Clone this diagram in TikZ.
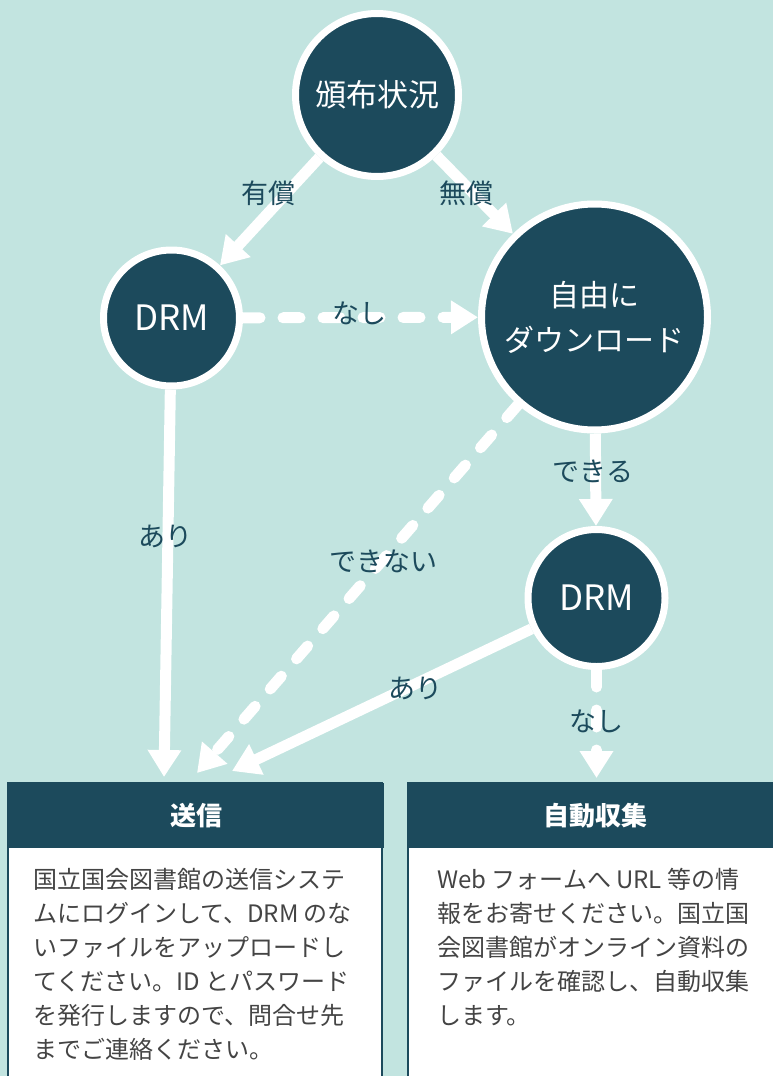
\documentclass[tikz,border=0pt]{standalone}
\usepackage{fontspec}
\setmainfont{Noto Sans CJK JP}
\usetikzlibrary{arrows.meta}
\definecolor{bg}{RGB}{194,228,224}
\definecolor{dark}{RGB}{28,74,92}
\definecolor{bodytxt}{RGB}{68,68,68}
\tikzset{
  circ/.style={circle, fill=dark, draw=white, line width=7pt, text=white, inner sep=0pt, align=center},
  arr/.style={draw=white, line width=11pt, -{Triangle[width=32pt,length=27pt]}},
  dasharr/.style={arr, line cap=round, dash pattern=on 17pt off 23pt},
  lab/.style={text=dark, font=\fontsize{27pt}{32pt}\selectfont, inner sep=0pt},
  header/.style={fill=dark, draw=dark, line width=2pt, text=white, inner sep=0pt, anchor=north west, minimum height=63pt, font=\bfseries\fontsize{26pt}{30pt}\selectfont},
  bodytext/.style={text=bodytxt, align=left, inner sep=0pt, anchor=north west, font=\fontsize{24pt}{34pt}\selectfont},
  boxframe/.style={fill=white, draw=dark, line width=2pt}
}
\begin{document}
\begin{tikzpicture}[x=1pt,y=-1pt]
\fill[bg] (0,0) rectangle (773,1076);
\useasboundingbox (0,0) rectangle (773,1076);

% boxes
\draw[boxframe] (8,783) rectangle (382,1080);
\draw[boxframe] (408,783) rectangle (780,1080);
\node[header, minimum width=374pt] (sendh) at (8,783) {送信};
\node[header, minimum width=372pt] (autoh) at (408,783) {自動収集};
\node[bodytext] (sendt) at (33,868) {国立国会図書館の送信システ\\ムにログインして、DRM のな\\いファイルをアップロードし\\てください。ID とパスワード\\を発行しますので、問合せ先\\までご連絡ください。};
\node[bodytext] (autot) at (437,868) {Web フォームへ URL 等の情\\報をお寄せください。国立国\\会図書館がオンライン資料の\\ファイルを確認し、自動収集\\します。};

% circles
\node[circ, minimum size=163pt, font=\fontsize{31pt}{36pt}\selectfont] (top) at (377,95) {頒布状況};
\node[circ, minimum size=136pt, font=\fontsize{35pt}{38pt}\selectfont] (drmL) at (171.5,318) {DRM};
\node[circ, minimum size=226pt, font=\fontsize{30pt}{45pt}\selectfont] (free) at (594.5,317) {自由に\\ダウンロード};
\node[circ, minimum size=137pt, font=\fontsize{35pt}{38pt}\selectfont] (drmR) at (596.5,598) {DRM};

% tip coordinates
\coordinate (t1) at (164,777);
\coordinate (t2) at (197,773);
\coordinate (t3) at (232,771);
\coordinate (t4) at (596.5,778);

% connectors
\draw[arr] (top) -- (drmL);
\draw[arr] (top) -- (free);
\draw[dasharr] (drmL) -- (free);
\draw[arr] (drmL) -- (t1);
\draw[arr] (free) -- (drmR);
\draw[dasharr] (free) -- (t2);
\draw[arr] (drmR) -- (t3);
\draw[dasharr] (drmR) -- (t4);

% labels
\node[lab] (l1) at (268.5,193) {有償};
\node[lab] (l2) at (466.5,193) {無償};
\node[lab] (l3) at (359,313) {なし};
\node[lab] (l4) at (165,536) {あり};
\node[lab] (l5) at (593,471) {できる};
\node[lab] (l6) at (383.5,561) {できない};
\node[lab] (l7) at (415.5,688) {あり};
\node[lab] (l8) at (596.5,721) {なし};
\end{tikzpicture}
\end{document}
